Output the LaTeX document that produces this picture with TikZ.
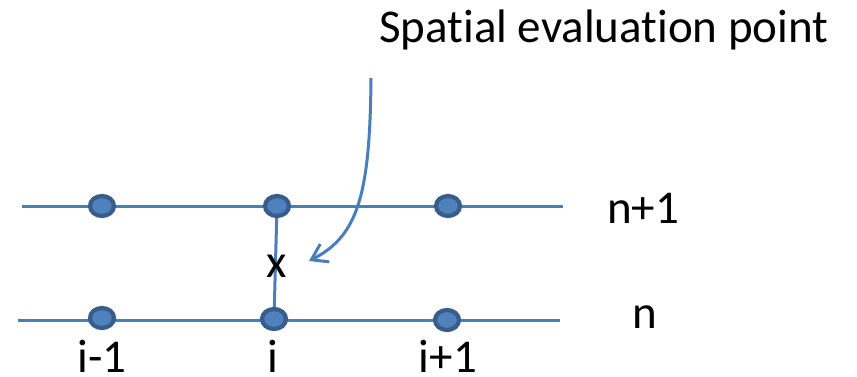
\documentclass[tikz,border=0pt]{standalone}
\usepackage{fontspec}
\setmainfont{Carlito}[Ligatures={NoCommon}]
\usetikzlibrary{arrows.meta,shapes.geometric}
\definecolor{lineblue}{HTML}{4A7EBB}
\definecolor{dotfill}{HTML}{4F81BD}
\definecolor{dotborder}{HTML}{385D8A}
\begin{document}
\begin{tikzpicture}[x=1pt,y=-1pt,
  gridline/.style={draw=lineblue,line width=3pt},
  gpoint/.style={ellipse,draw=dotborder,fill=dotfill,line width=4.2pt,minimum width=24pt,minimum height=20pt,inner sep=0pt},
  lbl/.style={anchor=base,inner sep=0pt,font=\fontsize{47}{50}\selectfont}]
\useasboundingbox (0,0) rectangle (857,377);
% grid lines
\coordinate (t0) at (22,206);
\coordinate (t1) at (563,206);
\coordinate (b0) at (18,320);
\coordinate (b1) at (560,320);
\draw[gridline] (t0) -- (t1);
\draw[gridline] (b0) -- (b1);
% vertical
\coordinate (vtop) at (277,206);
\coordinate (vbot) at (274,319);
\draw[gridline] (vtop) -- (vbot);
% curved arrow
\coordinate (cs) at (371,78);
\coordinate (ce) at (309,261);
\draw[lineblue,line width=3pt,-{Straight Barb[length=15pt,width=20pt,line width=3pt]}]
  (cs) .. controls (370,195) and (358,236) .. (ce);
% points
\node[gpoint] (p1) at (102,206) {};
\node[gpoint] (p2) at (277,206) {};
\node[gpoint] (p3) at (448,206) {};
\node[gpoint] (q1) at (102,318) {};
\node[gpoint] (q2) at (274,319) {};
\node[gpoint] (q3) at (447,320) {};
% labels
\node[lbl] (xl) at (277,277) {x};
\node[lbl,anchor=base west] (title) at (379,43) {Spatial evaluation point};
\node[lbl] (l1) at (102,372) {i-1};
\node[lbl] (l2) at (273,372) {i};
\node[lbl] (l3) at (448,372) {i+1};
\node[lbl] (n1) at (643,223) {n+1};
\node[lbl] (n0) at (645,328) {n};
\end{tikzpicture}
\end{document}
